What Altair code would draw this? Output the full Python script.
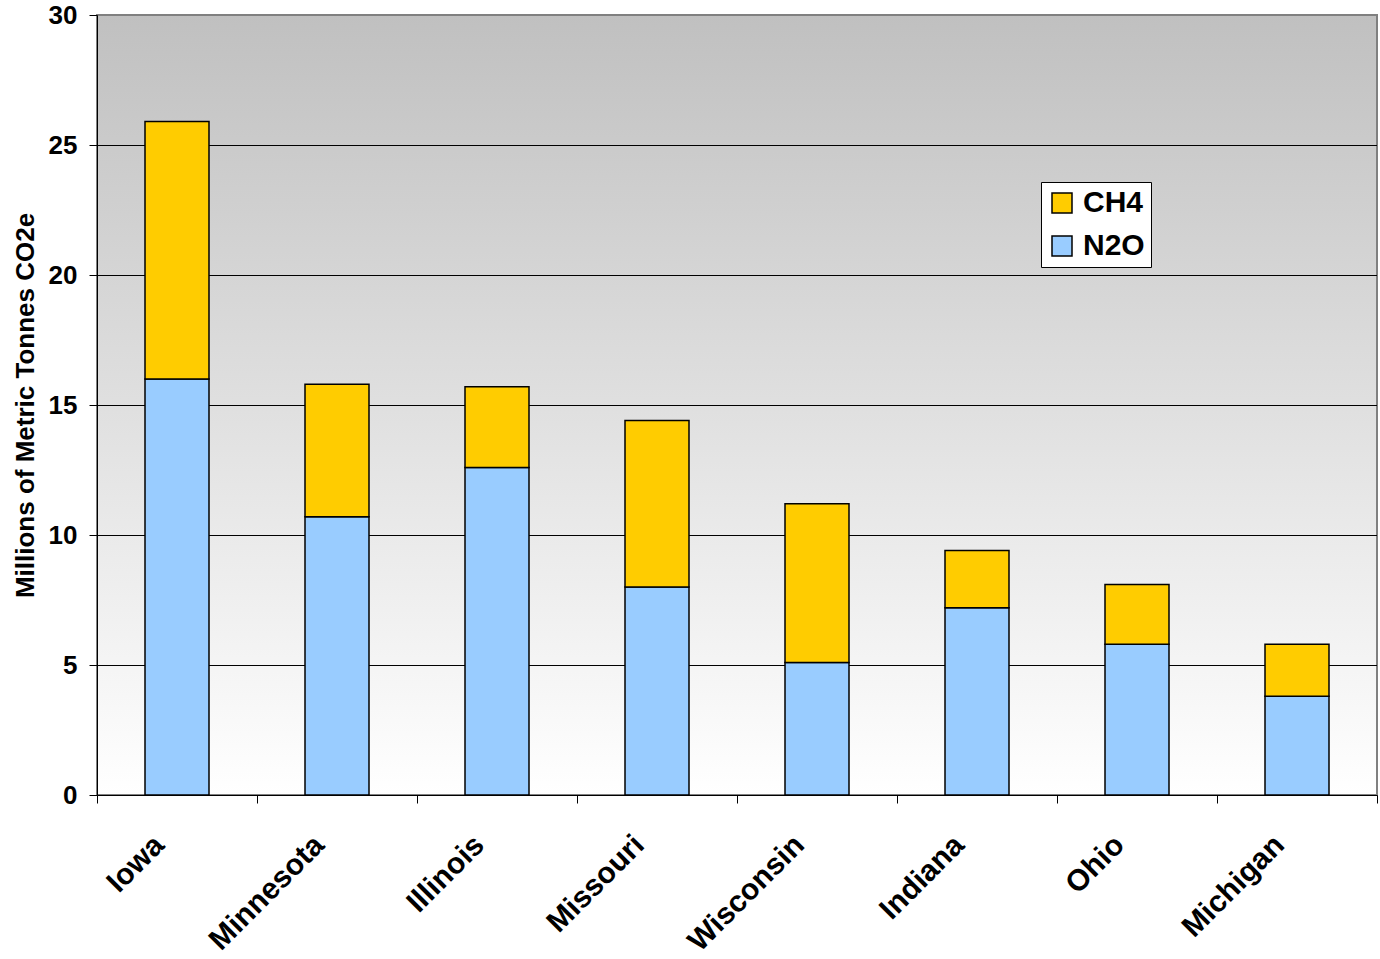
import altair as alt
import pandas as pd

# Agricultural non-CO2 emissions by state (millions of metric tonnes CO2e)
states = ["Iowa", "Minnesota", "Illinois", "Missouri", "Wisconsin", "Indiana", "Ohio", "Michigan"]
n2o = [16.0, 10.7, 12.6, 8.0, 5.1, 7.2, 5.8, 3.8]
ch4 = [9.9, 5.1, 3.1, 6.4, 6.1, 2.2, 2.3, 2.0]
gases = ["CH4", "N2O"]
gas_colors = ["#FFCC00", "#99CCFF"]
y_ticks = [0, 5, 10, 15, 20, 25, 30]
grid_values = [5, 10, 15, 20, 25]

rows = []
for s, a, b in zip(states, n2o, ch4):
    rows.append({"state": s, "gas": "N2O", "value": a, "rank": 0})
    rows.append({"state": s, "gas": "CH4", "value": b, "rank": 1})
df = pd.DataFrame(rows)

font = "Liberation Sans"
y_scale = alt.Scale(domain=[0, 30], nice=False)
y_title = "Millions of Metric Tonnes CO2e"
y_axis = alt.Axis(
    values=y_ticks,
    grid=False,
    tickSize=8,
    tickColor="black",
    domainColor="black",
    labelFont=font,
    labelFontWeight="bold",
    labelFontSize=26,
    labelColor="black",
    labelPadding=12,
    titleFont=font,
    titleFontWeight="bold",
    titleFontSize=26,
    titleColor="black",
    titlePadding=10,
    zindex=1,
)

# Grey-to-white gradient panel behind the plot
panel = alt.Chart(pd.DataFrame({"k": [0]})).mark_rect(
    color=alt.LinearGradient(
        gradient="linear",
        x1=0, y1=0, x2=0, y2=1,
        stops=[
            alt.GradientStop(offset=0, color="#c0c0c0"),
            alt.GradientStop(offset=1, color="#ffffff"),
        ],
    ),
    stroke="#808080",
    strokeWidth=2,
).encode(
    x=alt.value(0),
    x2=alt.value("width"),
    y=alt.value(0),
    y2=alt.value("height"),
)

# Horizontal gridlines
grid = alt.Chart(pd.DataFrame({"value": grid_values})).mark_rule(
    color="black", strokeWidth=1, yOffset=0.5
).encode(
    y=alt.Y("value:Q", scale=y_scale, title=y_title, axis=y_axis),
)

bars = alt.Chart(df).mark_bar(
    stroke="black", strokeWidth=1.5, width=alt.RelativeBandSize(0.4)
).encode(
    x=alt.X(
        "state:N",
        sort=states,
        title=None,
        scale=alt.Scale(paddingInner=0, paddingOuter=0),
        axis=alt.Axis(
            labelAngle=-45,
            labelAlign="right",
            labelBaseline="middle",
            labelFont=font,
            labelFontWeight="bold",
            labelFontSize=30,
            labelColor="black",
            labelPadding=37,
            labelOffset=-18,
            tickBand="extent",
            tickSize=8,
            tickColor="black",
            domainColor="black",
            domainWidth=1,
            zindex=1,
        ),
    ),
    y=alt.Y("value:Q", stack="zero", scale=y_scale, title=y_title, axis=y_axis),
    color=alt.Color(
        "gas:N",
        scale=alt.Scale(domain=gases, range=gas_colors),
        legend=alt.Legend(
            title=None,
            orient="none",
            legendX=944,
            legendY=167,
            fillColor="white",
            strokeColor="black",
            padding=6,
            symbolType="square",
            symbolSize=400,
            symbolStrokeColor="black",
            symbolStrokeWidth=1.5,
            labelFont=font,
            labelFontWeight="bold",
            labelFontSize=30,
            labelColor="black",
            rowPadding=13,
            labelOffset=6,
        ),
    ),
    order=alt.Order("rank:Q", sort="ascending"),
)

chart = alt.layer(panel, grid, bars).properties(
    width=1280,
    height=780,
    autosize=alt.AutoSizeParams(type="none"),
    padding={"left": 97, "top": 15, "right": 3, "bottom": 164},
).configure_view(
    stroke=None,
).configure(background="white")

chart.save("out.html", embed_options={"renderer": "svg", "actions": False})
